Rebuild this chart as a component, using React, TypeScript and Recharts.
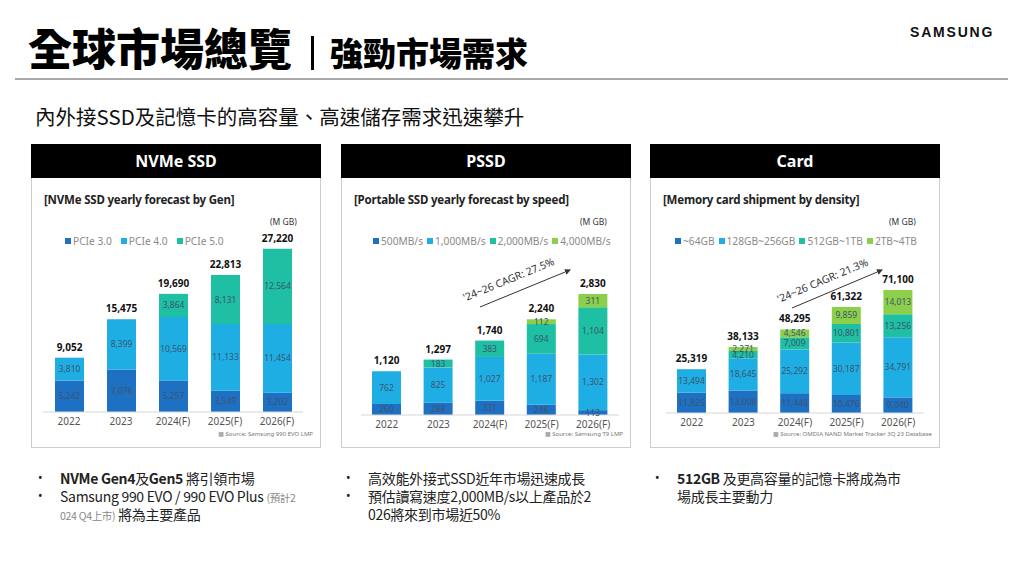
import React from "react";
import { BarChart, Bar, XAxis, YAxis, LabelList } from "recharts";

const years = ["2022", "2023", "2024(F)", "2025(F)", "2026(F)"];

// NVMe SSD (M GB)
const nvmeNames = ["PCIe 3.0", "PCIe 4.0", "PCIe 5.0"];
const nvmePcie3 = [5242, 7076, 5257, 3549, 3202];
const nvmePcie4 = [3810, 8399, 10569, 11133, 11454];
const nvmePcie5 = [0, 0, 3864, 8131, 12564];
const nvmeTotals = [9052, 15475, 19690, 22813, 27220];

// Portable SSD (M GB)
const pssdNames = ["500MB/s", "1,000MB/s", "2,000MB/s", "4,000MB/s"];
const pssd500 = [260, 288, 331, 246, 113];
const pssd1000 = [762, 825, 1027, 1187, 1302];
const pssd2000 = [0, 183, 383, 694, 1104];
const pssd4000 = [0, 0, 0, 112, 311];
const pssdTotals = [1120, 1297, 1740, 2240, 2830];

// Memory card (M GB)
const cardNames = ["~64GB", "128GB~256GB", "512GB~1TB", "2TB~4TB"];
const card64 = [11825, 13008, 11448, 10476, 9040];
const card256 = [13494, 18645, 25292, 30187, 34791];
const card1tb = [0, 4210, 7009, 10801, 13256];
const card4tb = [0, 2271, 4546, 9859, 14013];
const cardTotals = [25319, 38133, 48295, 61322, 71100];

const BLUE = "#1e70c3";
const SKY = "#1eaee3";
const TEAL = "#1ebfa3";
const LIME = "#8ccf4a";

const CJK = "'Noto Sans CJK TC', 'Noto Sans', sans-serif";
const LATIN = "'Noto Sans', 'DejaVu Sans', sans-serif";

const fmt = (v: any) => (v ? Number(v).toLocaleString("en-US") : "");

type Series = { name: string; values: number[]; color: string };

function StackChart(props: {
  series: Series[];
  totals: number[];
  max: number;
  margin: { top: number; right: number; bottom: number; left: number };
}) {
  const { series, totals, max, margin } = props;
  const data = years.map((y, i) => {
    const row: any = { year: y };
    let top = 0;
    series.forEach((s, k) => {
      row["s" + k] = s.values[i];
      if (s.values[i] > 0) top = k;
    });
    // the total sits on the highest non-empty segment
    series.forEach((_, k) => (row["t" + k] = k === top ? totals[i] : null));
    return row;
  });
  return (
    <BarChart width={290} height={270} data={data} margin={margin}>
      <XAxis
        dataKey="year"
        interval={0}
        height={20}
        tickSize={4}
        tickLine={false}
        axisLine={{ stroke: "#d6d6d6" }}
        tick={{ fill: "#555", fontSize: 10, fontFamily: LATIN }}
      />
      <YAxis hide domain={[0, max]} />
      {series.map((s, k) => (
        <Bar key={s.name} dataKey={"s" + k} stackId="a" fill={s.color} barSize={29} isAnimationActive={false}>
          <LabelList
            dataKey={"s" + k}
            position="center"
            fill="#3d5570"
            fontSize={8.5}
            fontFamily={LATIN}
            formatter={fmt}
          />
          <LabelList
            dataKey={"t" + k}
            position="top"
            offset={7}
            fill="#111"
            fontSize={10}
            fontWeight={700}
            fontFamily={LATIN}
            formatter={fmt}
          />
        </Bar>
      ))}
    </BarChart>
  );
}

function Panel(props: {
  left: number;
  head: string;
  title: string;
  series: Series[];
  totals: number[];
  max: number;
  margin: { top: number; right: number; bottom: number; left: number };
  legendLeft: number;
  legendGap: number;
  source: string;
}) {
  const p = props;
  return (
    <>
      <div
        style={{
          position: "absolute", left: p.left, top: 144, width: 290, height: 34, background: "#000",
          color: "#fff", fontFamily: LATIN, fontWeight: 700, fontSize: 16, lineHeight: "34px", textAlign: "center",
        }}
      >
        {p.head}
      </div>
      <div
        style={{
          position: "absolute", left: p.left, top: 178, width: 290, height: 270, boxSizing: "border-box",
          border: "1px solid #cdcdcd", borderTop: "none",
        }}
      />
      <div style={{ position: "absolute", left: p.left + 13, top: 192, fontFamily: LATIN, fontWeight: 700, fontSize: 11.5, color: "#222", letterSpacing: -0.2 }}>
        {p.title}
      </div>
      <div style={{ position: "absolute", left: p.left + 239, top: 216, fontFamily: LATIN, fontSize: 8.5, color: "#333" }}>(M GB)</div>
      <div
        style={{
          position: "absolute", left: p.legendLeft, top: 234, display: "flex", gap: p.legendGap,
          fontFamily: LATIN, fontSize: 10.2, color: "#8a8a8a", whiteSpace: "nowrap",
        }}
      >
        {p.series.map((s) => (
          <span key={s.name} style={{ display: "flex", alignItems: "center" }}>
            <span style={{ display: "inline-block", width: 6, height: 6, background: s.color, marginRight: 2 }} />
            {s.name}
          </span>
        ))}
      </div>
      <div style={{ position: "absolute", left: p.left, top: 178 }}>
        <StackChart series={p.series} totals={p.totals} max={p.max} margin={p.margin} />
      </div>
      <div style={{ position: "absolute", right: 1024 - (p.left + 282), top: 430, fontFamily: LATIN, fontSize: 6, color: "#777" }}>
        <span style={{ color: "#aaa" }}>■</span> {p.source}
      </div>
    </>
  );
}

function Cagr(props: { x1: number; y1: number; x2: number; y2: number; tx: number; ty: number; text: string }) {
  const p = props;
  const ang = (Math.atan2(p.y2 - p.y1, p.x2 - p.x1) * 180) / Math.PI;
  return (
    <g>
      <line x1={p.x1} y1={p.y1} x2={p.x2} y2={p.y2} stroke="#333" strokeWidth={1} markerEnd="url(#arr)" />
      <text
        x={p.tx}
        y={p.ty}
        textAnchor="middle"
        fontFamily={LATIN}
        fontSize={10.5}
        fill="#333"
        transform={`rotate(${ang} ${p.tx} ${p.ty})`}
      >
        {p.text}
      </text>
    </g>
  );
}

const bulletRow = (top: number, left: number, dot: boolean, children: React.ReactNode) => (
  <div
    style={{
      position: "absolute", left, top, fontFamily: CJK, fontSize: 14, lineHeight: "18px", letterSpacing: -0.3,
      color: "#222", whiteSpace: "nowrap",
    }}
  >
    {dot && <span style={{ position: "absolute", left: -22, fontFamily: LATIN, fontSize: 12 }}>•</span>}
    {children}
  </div>
);

export default function App() {
  return (
    <div style={{ position: "absolute", left: 0, top: 0, width: 1024, height: 576, background: "#fff", overflow: "hidden" }}>
      <div style={{ position: "absolute", left: 28, top: 22, fontFamily: CJK, fontWeight: 900, fontSize: 44, lineHeight: "50px", color: "#000" }}>
        全球市場總覽
      </div>
      <div style={{ position: "absolute", left: 311, top: 36, width: 3, height: 34, background: "#000" }} />
      <div style={{ position: "absolute", left: 330, top: 31, fontFamily: CJK, fontWeight: 900, fontSize: 33, lineHeight: "42px", color: "#000" }}>
        強勁市場需求
      </div>
      <div style={{ position: "absolute", left: 910, top: 24, fontFamily: "'Liberation Sans', sans-serif", fontWeight: 700, fontSize: 14, letterSpacing: 1.8, color: "#111" }}>
        SAMSUNG
      </div>
      <div style={{ position: "absolute", left: 15, top: 78, width: 993, height: 2, background: "#a9a9a9" }} />
      <div style={{ position: "absolute", left: 35, top: 101, fontFamily: CJK, fontSize: 20.5, lineHeight: "30px", color: "#111" }}>
        內外接SSD及記憶卡的高容量、高速儲存需求迅速攀升
      </div>

      <Panel
        left={31}
        head="NVMe SSD"
        title="[NVMe SSD yearly forecast by Gen]"
        series={[
          { name: nvmeNames[0], values: nvmePcie3, color: BLUE },
          { name: nvmeNames[1], values: nvmePcie4, color: SKY },
          { name: nvmeNames[2], values: nvmePcie5, color: TEAL },
        ]}
        totals={nvmeTotals}
        max={30000}
        margin={{ top: 54, right: 18, bottom: 16, left: 12 }}
        legendLeft={65}
        legendGap={9}
        source="Source: Samsung 990 EVO LMP"
      />
      <Panel
        left={341}
        head="PSSD"
        title="[Portable SSD yearly forecast by speed]"
        series={[
          { name: pssdNames[0], values: pssd500, color: BLUE },
          { name: pssdNames[1], values: pssd1000, color: SKY },
          { name: pssdNames[2], values: pssd2000, color: TEAL },
          { name: pssdNames[3], values: pssd4000, color: LIME },
        ]}
        totals={pssdTotals}
        max={4000}
        margin={{ top: 66, right: 12, bottom: 13, left: 20 }}
        legendLeft={373}
        legendGap={4}
        source="Source: Samsung T9 LMP"
      />
      <Panel
        left={650}
        head="Card"
        title="[Memory card shipment by density]"
        series={[
          { name: cardNames[0], values: card64, color: BLUE },
          { name: cardNames[1], values: card256, color: SKY },
          { name: cardNames[2], values: card1tb, color: TEAL },
          { name: cardNames[3], values: card4tb, color: LIME },
        ]}
        totals={cardTotals}
        max={100000}
        margin={{ top: 62, right: 16, bottom: 15, left: 16 }}
        legendLeft={675}
        legendGap={4}
        source="Source: OMDIA NAND Market Tracker 3Q 23 Database"
      />

      <svg width={1024} height={576} style={{ position: "absolute", left: 0, top: 0, pointerEvents: "none" }}>
        <defs>
          <marker id="arr" markerWidth="6" markerHeight="6" refX="5" refY="3" orient="auto">
            <path d="M0,0 L6,3 L0,6 z" fill="#333" />
          </marker>
        </defs>
        <Cagr x1={480} y1={307} x2={570} y2={270} tx={510} ty={283} text="'24~26 CAGR: 27.5%" />
        <Cagr x1={792} y1={308} x2={882} y2={270} tx={824} ty={284} text="'24~26 CAGR: 21.3%" />
      </svg>

      {bulletRow(469, 60, true, (
        <>
          <b>NVMe Gen4</b>及<b>Gen5</b> 將引領市場
        </>
      ))}
      {bulletRow(487, 60, true, (
        <>
          Samsung 990 EVO / 990 EVO Plus <span style={{ fontSize: 10.5, color: "#888" }}>(預計2</span>
        </>
      ))}
      {bulletRow(505, 60, false, (
        <>
          <span style={{ fontSize: 10.5, color: "#888" }}>024 Q4上市)</span> 將為主要產品
        </>
      ))}
      {bulletRow(469, 368, true, <>高效能外接式SSD近年市場迅速成長</>)}
      {bulletRow(487, 368, true, <>預估讀寫速度2,000MB/s以上產品於2</>)}
      {bulletRow(505, 368, false, <>026將來到市場近50%</>)}
      {bulletRow(469, 677, true, (
        <>
          <b>512GB</b> 及更高容量的記憶卡將成為市
        </>
      ))}
      {bulletRow(487, 677, false, <>場成長主要動力</>)}
    </div>
  );
}
